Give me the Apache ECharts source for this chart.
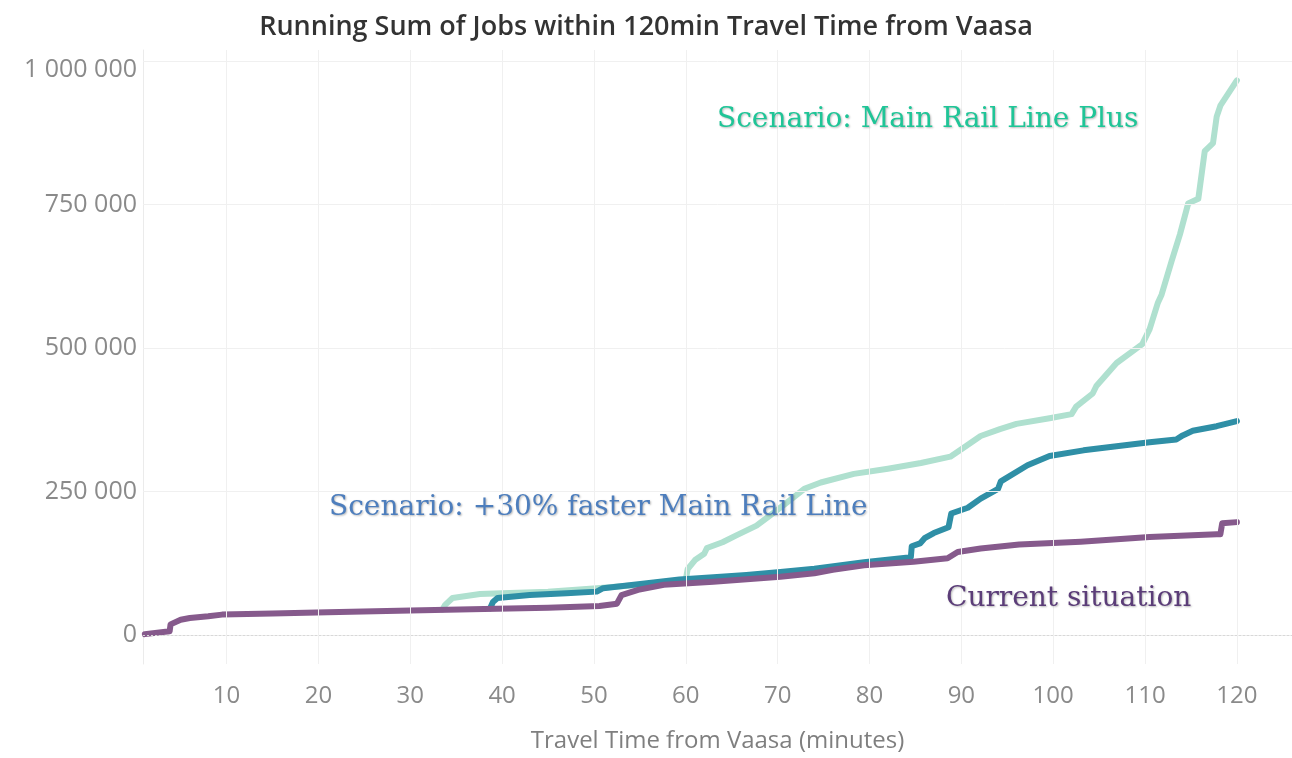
<!DOCTYPE html>
<html>
<head>
<meta charset="utf-8">
<script src="https://cdn.jsdelivr.net/npm/echarts@6/dist/echarts.min.js"></script>
<style>
  html, body { margin: 0; padding: 0; background: #ffffff; }
  #chart { width: 1292px; height: 758px; }
</style>
</head>
<body>
<div id="chart"></div>
<script>
// ---- Data ----
const xTicks = [10, 20, 30, 40, 50, 60, 70, 80, 90, 100, 110, 120];
const yTicks = [0, 250000, 500000, 750000, 1000000];

const currentMinutes = [1.1, 3.8, 3.9, 5, 6, 8, 9.5, 15, 21, 30, 39.4, 45, 50.6, 52.5, 53, 54.8, 57.6, 63, 70.3, 74, 76, 79.4, 84.8, 88.5, 89.6, 92.1, 96.3, 103, 110.5, 117.8, 118.2, 118.4, 120];
const currentJobs    = [2000, 7000, 19000, 27000, 30000, 33000, 36000, 38000, 40000, 43000, 46000, 48000, 51000, 55000, 70000, 79000, 88000, 93000, 102000, 108000, 114000, 122000, 128000, 134000, 145000, 151000, 158000, 163000, 171000, 176000, 176000, 195000, 197000];

const fasterMinutes = [38.7, 39, 39.5, 43, 47, 50.3, 51, 56, 59.3, 63, 66.6, 70.3, 74, 79.4, 84.5, 84.6, 85.5, 86, 87, 88.6, 88.9, 90.7, 92.1, 94, 94.3, 97.2, 99.6, 103.3, 106.9, 110.5, 113.4, 114.1, 115.2, 117.8, 120];
const fasterJobs    = [47000, 58000, 65000, 70000, 73000, 76000, 82000, 91000, 97000, 101000, 105000, 110000, 116000, 127000, 136000, 155000, 160000, 169000, 178000, 188000, 212000, 222000, 238000, 255000, 268000, 296000, 312000, 322000, 329000, 336000, 341000, 348000, 356000, 364000, 373000];

const plusMinutes = [33.5, 33.8, 34.6, 37.6, 40, 45, 50.3, 55, 60, 60.2, 61, 62, 62.3, 64, 65.5, 67.7, 69.2, 71, 72.9, 74.7, 78.3, 82, 85.6, 88.8, 90.2, 92.1, 94.2, 96, 99.6, 102, 102.5, 104.3, 104.7, 106.9, 109.7, 110.5, 111.4, 111.8, 112.9, 113.8, 114.7, 115.8, 116.5, 117.4, 117.8, 118.2, 120];
const plusJobs    = [45000, 53000, 65000, 72000, 73000, 76000, 82000, 88000, 97000, 115000, 131000, 142000, 152000, 162000, 174000, 191000, 209000, 231000, 255000, 266000, 281000, 290000, 300000, 311000, 326000, 347000, 359000, 368000, 378000, 385000, 398000, 421000, 434000, 474000, 507000, 533000, 579000, 593000, 652000, 698000, 752000, 760000, 843000, 857000, 903000, 922000, 966000];

const seriesNames = ['Scenario: Main Rail Line Plus', 'Scenario: +30% faster Main Rail Line', 'Current situation'];

function pairs(xs, ys) { return xs.map((x, i) => [x, ys[i]]); }
function fmt(v) { return String(v).replace(/\B(?=(\d{3})+(?!\d))/g, ' '); }

const chart = echarts.init(document.getElementById('chart'), null, { renderer: 'canvas' });

const gridLines = [];
xTicks.forEach(v => gridLines.push({ xAxis: v, lineStyle: { color: '#f0f0f0', width: 1, type: 'solid' } }));
yTicks.forEach(v => gridLines.push({ yAxis: v, lineStyle: v === 0 ? { color: '#d8d8d8', width: 1, type: [2, 2] } : { color: '#f0f0f0', width: 1, type: 'solid' } }));

const annoShadow = { textShadowColor: 'rgba(0,0,0,0.28)', textShadowBlur: 2, textShadowOffsetX: 1, textShadowOffsetY: 1 };
const annoFont = '28px "DejaVu Serif"';

const option = {
  backgroundColor: '#ffffff',
  animation: false,
  title: {
    text: 'Running Sum of Jobs within 120min Travel Time from Vaasa',
    left: 'center',
    top: 9,
    textStyle: { fontFamily: 'Open Sans', fontWeight: 600, fontSize: 27, color: '#333333' }
  },
  grid: { left: 143, right: 0, top: 50, bottom: 88, containLabel: false },
  xAxis: {
    type: 'value',
    min: 0.9,
    max: 126,
    name: 'Travel Time from Vaasa (minutes)',
    nameLocation: 'middle',
    nameGap: 65,
    nameTextStyle: { fontFamily: 'Open Sans', fontSize: 24, color: '#7f7f7f' },
    axisLine: { show: true, lineStyle: { color: '#ebebeb', width: 1 } },
    axisTick: { show: false },
    splitLine: { show: false },
    axisLabel: {
      customValues: xTicks,
      margin: 20,
      fontFamily: 'Open Sans',
      fontSize: 24,
      color: '#8a8a8a'
    }
  },
  yAxis: {
    type: 'value',
    min: -50000,
    max: 1019000,
    axisLine: { show: true, lineStyle: { color: '#ebebeb', width: 1 } },
    axisTick: { show: false },
    splitLine: { show: false },
    axisLabel: {
      customValues: yTicks,
      margin: 6,
      fontFamily: 'Open Sans',
      fontSize: 25,
      color: '#8a8a8a',
      formatter: v => v === 1000000 ? '{top|' + fmt(v) + '}' : fmt(v),
      rich: { top: { fontFamily: 'Open Sans', fontSize: 25, color: '#8a8a8a', padding: [18, 0, 0, 0] } }
    }
  },
  series: [
    {
      name: 'grid', type: 'line', data: [], z: 0, silent: true, showSymbol: false,
      markLine: { silent: true, symbol: ['none', 'none'], label: { show: false }, data: gridLines, animation: false }
    },
    {
      name: seriesNames[0], type: 'line', data: pairs(plusMinutes, plusJobs), z: 2,
      showSymbol: false, lineStyle: { color: '#afe0cf', width: 6, cap: 'round', join: 'round' }
    },
    {
      name: seriesNames[1], type: 'line', data: pairs(fasterMinutes, fasterJobs), z: 3,
      showSymbol: false, lineStyle: { color: '#2f8fa6', width: 6, cap: 'round', join: 'round' }
    },
    {
      name: seriesNames[2], type: 'line', data: pairs(currentMinutes, currentJobs), z: 4,
      showSymbol: false, lineStyle: { color: '#865a8c', width: 6, cap: 'round', join: 'round' }
    }
  ],
  graphic: [
    { type: 'text', left: 717, top: 106, z: 10, style: Object.assign({ text: seriesNames[0], font: annoFont, fill: '#1fc597' }, annoShadow) },
    { type: 'text', left: 329, top: 494, z: 10, style: Object.assign({ text: seriesNames[1], font: annoFont, fill: '#4d7ebd' }, annoShadow) },
    { type: 'text', left: 946, top: 585, z: 10, style: Object.assign({ text: seriesNames[2], font: annoFont, fill: '#5b3d78' }, annoShadow) }
  ]
};

chart.setOption(option);
</script>
</body>
</html>
